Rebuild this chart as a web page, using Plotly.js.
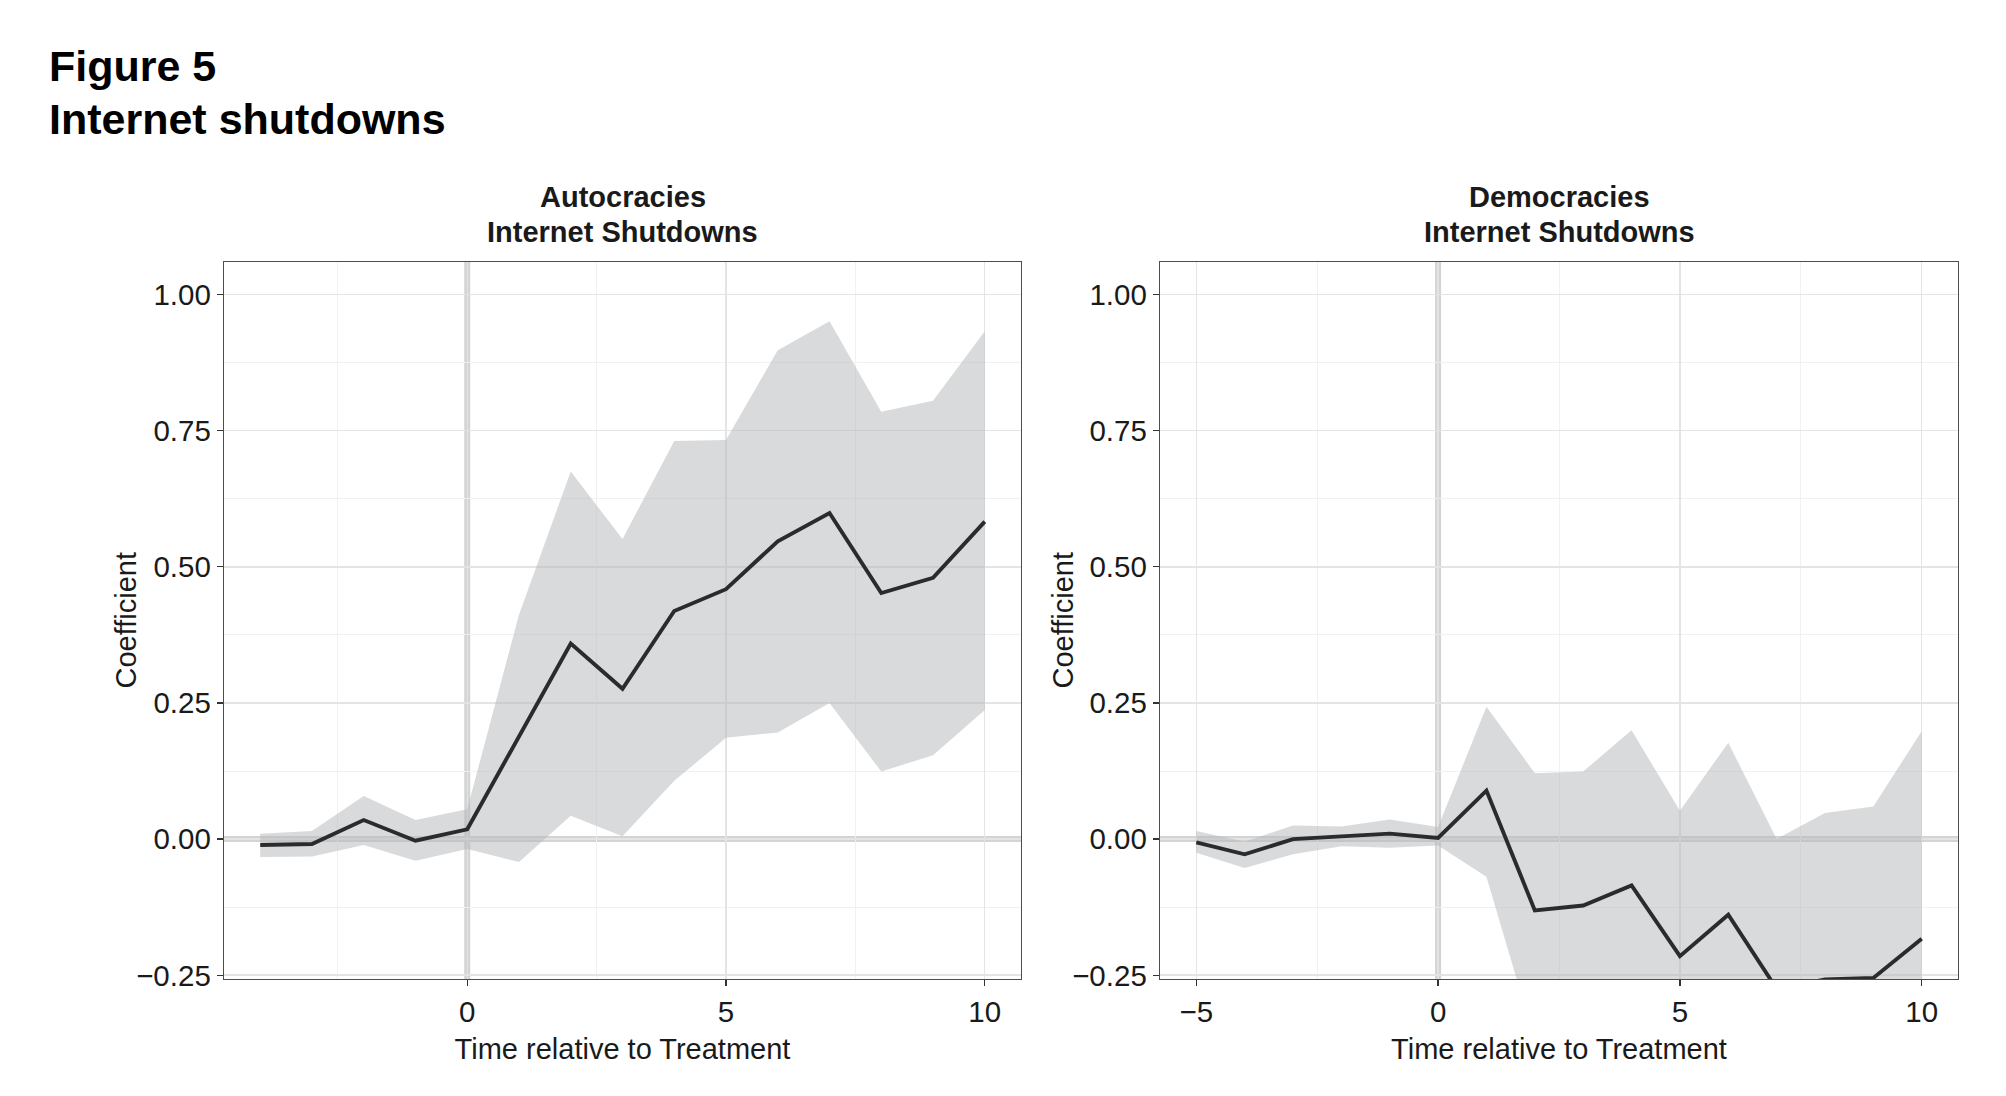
<!DOCTYPE html>
<html>
<head>
<meta charset="utf-8">
<script src="https://cdn.plot.ly/plotly-3.0.1.min.js"></script>
<style>html,body{margin:0;padding:0;background:#fff;}#chart{width:2006px;height:1096px;}</style>
</head>
<body>
<div id="chart"></div>
<script>
// Autocracies panel
var autX = [-4, -3, -2, -1, 0, 1, 2, 3, 4, 5, 6, 7, 8, 9, 10];
var autCoef = [-0.011, -0.009, 0.035, -0.003, 0.018, 0.189, 0.359, 0.276, 0.419, 0.459, 0.547, 0.599, 0.452, 0.480, 0.583];
var autUpper = [0.010, 0.015, 0.079, 0.035, 0.055, 0.412, 0.675, 0.551, 0.731, 0.733, 0.898, 0.951, 0.785, 0.805, 0.933];
var autLower = [-0.033, -0.032, -0.011, -0.040, -0.018, -0.042, 0.043, 0.005, 0.107, 0.186, 0.196, 0.250, 0.124, 0.154, 0.237];

// Democracies panel
var demX = [-5, -4, -3, -2, -1, 0, 1, 2, 3, 4, 5, 6, 7, 8, 9, 10];
var demCoef = [-0.006, -0.028, 0.000, 0.005, 0.010, 0.002, 0.089, -0.131, -0.122, -0.085, -0.215, -0.139, -0.275, -0.258, -0.255, -0.183];
var demUpper = [0.015, -0.005, 0.025, 0.023, 0.036, 0.022, 0.243, 0.121, 0.124, 0.200, 0.052, 0.177, 0.000, 0.048, 0.060, 0.198];
var demLower = [-0.025, -0.053, -0.028, -0.013, -0.016, -0.012, -0.069, -0.370, -0.360, -0.370, -0.480, -0.450, -0.550, -0.560, -0.570, -0.560];

var panelTitles = [["Autocracies", "Internet Shutdowns"], ["Democracies", "Internet Shutdowns"]];
var figTitle = ["Figure 5", "Internet shutdowns"];
var xTitle = "Time relative to Treatment";
var yTitle = "Coefficient";

var W = 2006, H = 1096;
var FONT = "Liberation Sans, Arial, Helvetica, sans-serif";
var ribbonFill = "rgba(178,181,186,0.5)";
var lineColor = "#2b2b2b";
var refColor = "#d4d4d4";
var textColor = "#1a1a1a";

function ribbon(x, lo, hi, xa, ya) {
  return [
    {x: x, y: lo, xaxis: xa, yaxis: ya, type: "scatter", mode: "lines", line: {width: 0, color: "rgba(0,0,0,0)"}, hoverinfo: "skip", showlegend: false},
    {x: x, y: hi, xaxis: xa, yaxis: ya, type: "scatter", mode: "lines", fill: "tonexty", fillcolor: ribbonFill, line: {width: 0, color: "rgba(0,0,0,0)"}, hoverinfo: "skip", showlegend: false}
  ];
}
function coefLine(x, y, xa, ya) {
  return {x: x, y: y, xaxis: xa, yaxis: ya, type: "scatter", mode: "lines", line: {color: lineColor, width: 3.9}, showlegend: false};
}

var data = [].concat(
  ribbon(autX, autLower, autUpper, "x", "y"),
  [coefLine(autX, autCoef, "x", "y")],
  ribbon(demX, demLower, demUpper, "x2", "y2"),
  [coefLine(demX, demCoef, "x2", "y2")]
);

function px2x(p) { return p / W; }
function px2y(p) { return 1 - p / H; }

var yDom = [px2y(979), px2y(262)];
var yRange = [-0.257, 1.06];

function xAxis(dom, range, anchor) {
  return {
    domain: dom, range: range, anchor: anchor,
    tickvals: [-5, 0, 5, 10], ticktext: ["\u22125", "0", "5", "10"],
    ticks: "outside", ticklen: 6, tickwidth: 1.2, tickcolor: "#333",
    tickfont: {family: FONT, size: 29.5, color: textColor},
    showgrid: true, gridcolor: "#e4e4e4", gridwidth: 1.4,
    minor: {tickvals: [-2.5, 2.5, 7.5], showgrid: true, gridcolor: "#f1f1f1", gridwidth: 1, ticks: ""},
    zeroline: false, showline: true, mirror: true, linecolor: "#4d4d4d", linewidth: 1.3,
    title: {text: xTitle, font: {family: FONT, size: 29, color: textColor}, standoff: 12},
    automargin: false, fixedrange: true
  };
}
function yAxis(anchor) {
  return {
    domain: yDom, range: yRange, anchor: anchor,
    tickvals: [-0.25, 0, 0.25, 0.5, 0.75, 1.0], ticktext: ["\u22120.25", "0.00", "0.25", "0.50", "0.75", "1.00"],
    ticks: "outside", ticklen: 6, tickwidth: 1.2, tickcolor: "#333",
    tickfont: {family: FONT, size: 29.5, color: textColor},
    showgrid: true, gridcolor: "#e4e4e4", gridwidth: 1.4,
    minor: {tickvals: [-0.125, 0.125, 0.375, 0.625, 0.875], showgrid: true, gridcolor: "#f1f1f1", gridwidth: 1, ticks: ""},
    zeroline: false, showline: true, mirror: true, linecolor: "#4d4d4d", linewidth: 1.3,
    automargin: false, fixedrange: true
  };
}

var leftDom = [px2x(224), px2x(1021)];
var rightDom = [px2x(1160), px2x(1958)];

function ann(text, x, y, size, xanchor, angle) {
  return {text: text, xref: "paper", yref: "paper", x: x, y: y, xanchor: xanchor, yanchor: "middle",
          showarrow: false, textangle: angle || 0, font: {family: FONT, size: size, color: textColor}};
}

var annotations = [
  ann("<b>" + figTitle[0] + "</b>", px2x(47), px2y(66), 43, "left"),
  ann("<b>" + figTitle[1] + "</b>", px2x(47), px2y(119), 43, "left"),
  ann("<b>" + panelTitles[0][0] + "</b>", (leftDom[0] + leftDom[1]) / 2, px2y(197), 29, "center"),
  ann("<b>" + panelTitles[0][1] + "</b>", (leftDom[0] + leftDom[1]) / 2, px2y(232), 29, "center"),
  ann("<b>" + panelTitles[1][0] + "</b>", (rightDom[0] + rightDom[1]) / 2, px2y(197), 29, "center"),
  ann("<b>" + panelTitles[1][1] + "</b>", (rightDom[0] + rightDom[1]) / 2, px2y(232), 29, "center"),
  ann(yTitle, px2x(126), (yDom[0] + yDom[1]) / 2, 29, "center", -90),
  ann(yTitle, px2x(1063), (yDom[0] + yDom[1]) / 2, 29, "center", -90)
];
annotations[0].font.color = "#000";
annotations[1].font.color = "#000";

var shapes = [];
[["x", "y"], ["x2", "y2"]].forEach(function (p) {
  shapes.push({type: "line", layer: "below", xref: p[0], yref: p[1] + " domain", x0: 0, x1: 0, y0: 0, y1: 1, line: {color: refColor, width: 6}});
  shapes.push({type: "line", layer: "below", xref: p[0] + " domain", yref: p[1], x0: 0, x1: 1, y0: 0, y1: 0, line: {color: refColor, width: 6}});
});

var layout = {
  width: W, height: H,
  margin: {l: 0, r: 0, t: 0, b: 0},
  paper_bgcolor: "#fff", plot_bgcolor: "#fff",
  showlegend: false,
  xaxis: xAxis(leftDom, [-4.7, 10.7], "y"),
  yaxis: yAxis("x"),
  xaxis2: xAxis(rightDom, [-5.75, 10.75], "y2"),
  yaxis2: yAxis("x2"),
  annotations: annotations,
  shapes: shapes
};

Plotly.newPlot("chart", data, layout, {displayModeBar: false, staticPlot: true});
</script>
</body>
</html>
